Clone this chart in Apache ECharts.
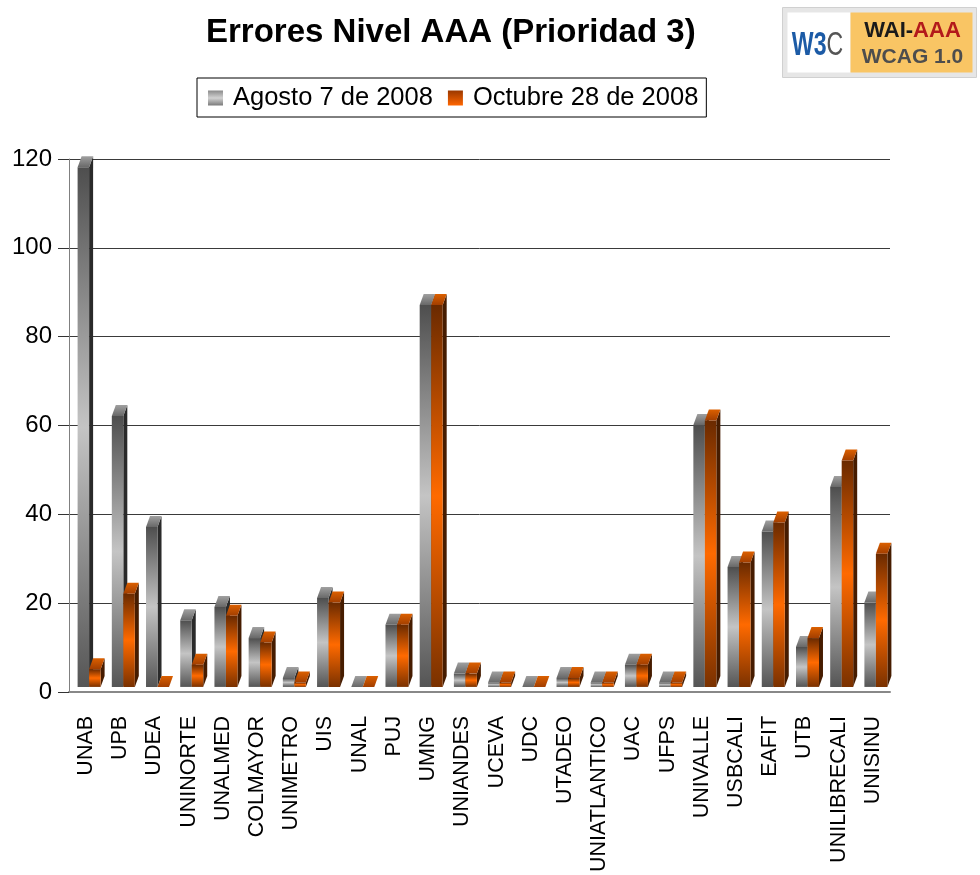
<!DOCTYPE html>
<html>
<head>
<meta charset="utf-8">
<title>Errores Nivel AAA (Prioridad 3)</title>
<script src="https://cdn.jsdelivr.net/npm/echarts/dist/echarts.min.js"></script>
<style>
  html, body { margin: 0; padding: 0; background: #ffffff; }
  #chart { width: 980px; height: 875px; }
</style>
</head>
<body>
<div id="chart"></div>
<script>
// Universities evaluated
var categories = ['UNAB', 'UPB', 'UDEA', 'UNINORTE', 'UNALMED', 'COLMAYOR', 'UNIMETRO', 'UIS',
  'UNAL', 'PUJ', 'UMNG', 'UNIANDES', 'UCEVA', 'UDC', 'UTADEO', 'UNIATLANTICO', 'UAC', 'UFPS',
  'UNIVALLE', 'USBCALI', 'EAFIT', 'UTB', 'UNILIBRECALI', 'UNISINU'];

// Priority 3 (AAA) errors per site, first review
var agosto = [117, 61, 36, 15, 18, 11, 2, 20, 0, 14, 86, 3, 1, 0, 2, 1, 5, 1, 59, 27, 35, 9, 45, 19];

// Priority 3 (AAA) errors per site, second review
var octubre = [4, 21, 0, 5, 16, 10, 1, 19, 0, 14, 86, 3, 1, 0, 2, 1, 5, 1, 60, 28, 37, 11, 51, 30];

var seriesNames = ['Agosto 7 de 2008', 'Octubre 28 de 2008'];
var yTicks = { min: 0, max: 120, interval: 20 };

var FONT = 'Liberation Sans, Arial, sans-serif';
var LG = echarts.graphic.LinearGradient;

// colour sets for the pseudo-3D columns
var palettes = [
  {
    front: [[0, '#4e4e4e'], [0.5, '#c4c4c4'], [1, '#555555']],
    top: [[0, '#a0a0a0'], [1, '#686868']],
    side: '#2a2a2a'
  },
  {
    front: [[0, '#6a2a00'], [0.5, '#ff6a00'], [1, '#7a3100']],
    top: [[0, '#dc6000'], [1, '#a23e00']],
    side: '#461c00'
  }
];

// draws one column with front face, right side and top cap
function columnRenderer(which) {
  var pal = palettes[which];
  return function (params, api) {
    var idx = api.value(0);
    var val = api.value(1);
    var base = api.coord([idx, 0]);
    var tip = api.coord([idx, val]);
    var bw = 11.5;     // front face width
    var dx = 4;        // depth shift to the right
    var dy = 11;       // depth shift upwards
    var lift = 5;      // columns stand slightly above the floor line
    var shift = 3;     // pair offset from category centre
    var x0 = base[0] + shift + (which === 0 ? -bw : 0);
    var yb = base[1] - lift;
    var yt = tip[1] - lift;
    var children = [];
    children.push({
      type: 'polygon',
      shape: { points: [[x0 + bw, yt], [x0 + bw + dx, yt - dy], [x0 + bw + dx, yb - dy], [x0 + bw, yb]] },
      style: { fill: pal.side }
    });
    if (yb - yt > 0.5) {
      children.push({
        type: 'rect',
        shape: { x: x0, y: yt, width: bw, height: yb - yt },
        style: { fill: new LG(0, 0, 0, 1, pal.front.map(function (s) { return { offset: s[0], color: s[1] }; })) }
      });
    }
    children.push({
      type: 'polygon',
      shape: { points: [[x0, yt], [x0 + bw, yt], [x0 + bw + dx, yt - dy], [x0 + dx, yt - dy]] },
      style: { fill: new LG(0, 0, 0, 1, pal.top.map(function (s) { return { offset: s[0], color: s[1] }; })) }
    });
    return { type: 'group', children: children };
  };
}

function pairs(arr) {
  return arr.map(function (v, i) { return [i, v]; });
}

var chart = echarts.init(document.getElementById('chart'), null, { renderer: 'canvas' });

var option = {
  backgroundColor: '#ffffff',
  animation: false,
  title: {
    text: 'Errores Nivel AAA (Prioridad 3)',
    left: 201,
    top: 11,
    textStyle: { fontFamily: FONT, fontSize: 33, fontWeight: 'bold', color: '#000000' }
  },
  legend: {
    left: 197,
    top: 78,
    orient: 'horizontal',
    icon: 'rect',
    itemWidth: 15,
    itemHeight: 15,
    itemGap: 15,
    padding: [7, 8, 6, 11],
    borderColor: '#000000',
    borderWidth: 1,
    textStyle: { fontFamily: FONT, fontSize: 25.5, color: '#000000', padding: [0, 0, 0, 5] },
    data: [
      { name: seriesNames[0], itemStyle: { color: new LG(0, 0, 0, 1, [{ offset: 0, color: '#8a8a8a' }, { offset: 0.5, color: '#d2d2d2' }, { offset: 1, color: '#7a7a7a' }]) } },
      { name: seriesNames[1], itemStyle: { color: new LG(0, 0, 0, 1, [{ offset: 0, color: '#9a3800' }, { offset: 1, color: '#ff6600' }]) } }
    ]
  },
  grid: { left: 69, right: 90, top: 159, bottom: 181, containLabel: false },
  xAxis: {
    type: 'category',
    data: categories,
    axisLine: { show: true, lineStyle: { color: '#888888', width: 2 } },
    axisTick: { show: false },
    axisLabel: {
      interval: 0,
      rotate: 90,
      margin: 24,
      fontFamily: FONT,
      fontSize: 21.5,
      color: '#000000'
    },
    splitLine: { show: false }
  },
  yAxis: {
    type: 'value',
    min: yTicks.min,
    max: yTicks.max,
    interval: yTicks.interval,
    axisLine: { show: true, lineStyle: { color: '#808080', width: 1 } },
    axisTick: { show: true, inside: false, length: 11, lineStyle: { color: '#333333' } },
    axisLabel: { margin: 17, fontFamily: FONT, fontSize: 24, color: '#000000' },
    splitLine: { show: true, lineStyle: { color: '#3a3a3a', width: 1 } }
  },
  series: [
    {
      name: seriesNames[0],
      type: 'custom',
      renderItem: columnRenderer(0),
      encode: { x: 0, y: 1 },
      itemStyle: { color: '#a0a0a0' },
      data: pairs(agosto),
      z: 2
    },
    {
      name: seriesNames[1],
      type: 'custom',
      renderItem: columnRenderer(1),
      encode: { x: 0, y: 1 },
      itemStyle: { color: '#ff6600' },
      data: pairs(octubre),
      z: 3
    }
  ],
  graphic: [
    {
      type: 'group',
      left: 782,
      top: 7,
      children: [
        { type: 'rect', shape: { x: 0, y: 0, width: 194, height: 70 }, style: { fill: '#e6e6e6', stroke: '#d0d0d0', lineWidth: 1 } },
        { type: 'rect', shape: { x: 5, y: 5, width: 63, height: 60 }, style: { fill: '#ffffff' } },
        { type: 'rect', shape: { x: 68, y: 5, width: 122, height: 60 }, style: { fill: '#f9c564' } },
        {
          type: 'text', x: 35, y: 38, scaleX: 0.7,
          style: {
            text: '{w|W3}{c|C}',
            align: 'center', verticalAlign: 'middle',
            rich: {
              w: { font: 'bold 33px ' + FONT, fill: '#1c5ba6' },
              c: { font: '33px ' + FONT, fill: '#555555' }
            }
          }
        },
        {
          type: 'text', x: 130, y: 23,
          style: {
            text: '{a|WAI-}{b|AAA}',
            align: 'center', verticalAlign: 'middle',
            rich: {
              a: { font: 'bold 22px ' + FONT, fill: '#1a1a1a' },
              b: { font: 'bold 22px ' + FONT, fill: '#b3191b' }
            }
          }
        },
        {
          type: 'text', x: 130, y: 50,
          style: { text: 'WCAG 1.0', font: 'bold 21px ' + FONT, fill: '#4d4d4d', align: 'center', verticalAlign: 'middle' }
        }
      ]
    }
  ]
};

chart.setOption(option);
</script>
</body>
</html>
